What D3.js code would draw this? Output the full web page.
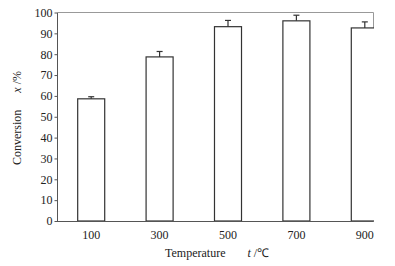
<!DOCTYPE html>
<html>
<head>
<meta charset="utf-8">
<script src="https://cdn.jsdelivr.net/npm/d3@7"></script>
<style>
  body { margin: 0; background: #fff; }
  text { font-family: "Liberation Serif", "Times New Roman", serif; fill: #222; }
</style>
</head>
<body>
<div id="chart"></div>
<script>
// Data
const temps = ["100", "300", "500", "700", "900"];
const conversion = [58.6, 78.7, 93.2, 96.0, 92.6];
const errors = [1.0, 2.6, 3.0, 2.7, 2.9];
const yTicks = [0, 10, 20, 30, 40, 50, 60, 70, 80, 90, 100];

const width = 395;
const height = 266;
const marginLeft = 57;
const marginTop = 12.5;
const plotRight = 373.5;
const plotBottom = 221;

const x = d3.scaleBand()
    .domain(temps)
    .range([marginLeft, marginLeft + 342])
    .paddingInner(0.605)
    .paddingOuter(0.3025);

const y = d3.scaleLinear()
    .domain([0, 100])
    .range([plotBottom, marginTop]);

const svg = d3.select("#chart")
  .append("svg")
    .attr("width", width)
    .attr("height", height)
    .attr("viewBox", [0, 0, width, height]);

svg.append("defs").append("clipPath")
    .attr("id", "plot")
  .append("rect")
    .attr("x", marginLeft)
    .attr("y", 0)
    .attr("width", plotRight - marginLeft + 0.6)
    .attr("height", plotBottom + 1);

// frame: top and right in lighter grey
svg.append("path")
    .attr("d", `M${marginLeft},${marginTop}H${plotRight}V${plotBottom}`)
    .attr("fill", "none")
    .attr("stroke", "#999")
    .attr("stroke-width", 1);

const bars = svg.append("g").attr("clip-path", "url(#plot)");

bars.selectAll("rect")
  .data(temps)
  .join("rect")
    .attr("x", d => x(d))
    .attr("y", (d, i) => y(conversion[i]))
    .attr("width", x.bandwidth())
    .attr("height", (d, i) => y(0) - y(conversion[i]))
    .attr("fill", "#fff")
    .attr("stroke", "#333")
    .attr("stroke-width", 1.2);

// error bars (upper only)
const err = svg.append("g").attr("stroke", "#333").attr("stroke-width", 1.2);
temps.forEach((t, i) => {
  const cx = x(t) + x.bandwidth() / 2;
  err.append("line")
      .attr("x1", cx).attr("x2", cx)
      .attr("y1", y(conversion[i])).attr("y2", y(conversion[i] + errors[i]));
  err.append("line")
      .attr("x1", cx - 3).attr("x2", cx + 3)
      .attr("y1", y(conversion[i] + errors[i])).attr("y2", y(conversion[i] + errors[i]));
});

// y axis
svg.append("g")
    .attr("transform", `translate(${marginLeft},0)`)
    .call(d3.axisLeft(y).tickValues(yTicks).tickSize(2.5).tickPadding(2).tickSizeOuter(0))
    .call(g => g.select(".domain").attr("stroke", "#555"))
    .call(g => g.selectAll(".tick line").attr("stroke", "#555"))
    .call(g => g.selectAll("text").attr("font-size", 12).attr("fill", "#222")
        .style("font-family", "Liberation Serif"));

// x axis
svg.append("g")
    .attr("transform", `translate(0,${plotBottom})`)
    .call(d3.axisBottom(x).tickSize(0).tickPadding(9))
    .call(g => g.select(".domain").attr("stroke", "#555")
        .attr("d", `M${marginLeft},0.5H${plotRight}`))
    .call(g => g.selectAll("text").attr("font-size", 12).attr("fill", "#222")
        .style("font-family", "Liberation Serif"));

// axis titles
svg.append("text")
    .attr("x", 165)
    .attr("y", 257)
    .attr("font-size", 12)
    .html('Temperature<tspan dx="22" font-style="italic">t</tspan><tspan> /℃</tspan>');

svg.append("text")
    .attr("transform", "translate(21,165) rotate(-90)")
    .attr("font-size", 12)
    .html('Conversion<tspan dx="17" font-style="italic">x</tspan><tspan> /%</tspan>');
</script>
</body>
</html>
